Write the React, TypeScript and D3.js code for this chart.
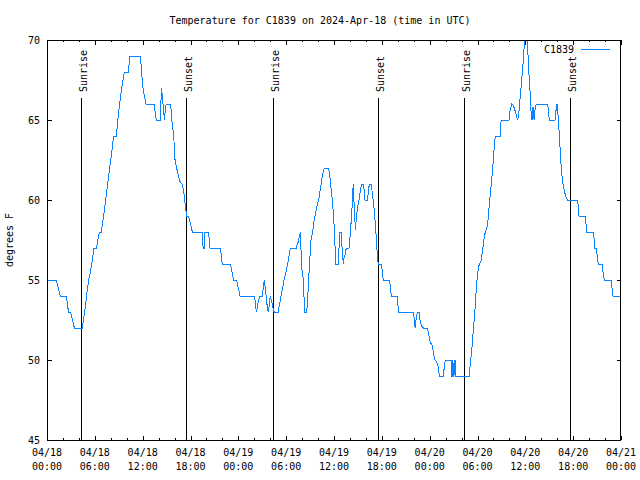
import React from 'react';
import * as d3 from 'd3';

// Observation times (hours after 2024-04-18 00:00 UTC) and temperatures (°F)
const obsHours = [
  0, 1.17, 1.35, 1.67, 2.42, 2.6, 2.68, 2.93, 3.15, 3.43, 4.43, 4.6, 4.85, 5.0, 5.23, 5.48, 5.73, 5.89, 6.19, 6.35,
  6.56, 6.81, 7.11, 7.36, 7.61, 7.86, 8.15, 8.36, 8.7, 8.86, 9.11, 9.36, 9.7, 10.2, 10.41, 11.71, 11.87, 12.04, 12.21, 12.42,
  13.42, 13.71, 14.21, 14.36, 14.45, 14.55, 14.65, 14.72, 14.85, 14.95, 15.5, 15.68, 15.85, 16.0, 16.06, 16.27, 16.48, 16.68, 16.93, 17.1,
  17.23, 17.31, 17.44, 17.52, 17.73, 17.85, 17.98, 18.1, 18.23, 19.48, 19.58, 19.72, 19.82, 20.24, 20.32, 20.45, 21.74, 21.82, 21.99, 22.99,
  23.12, 23.28, 23.41, 23.79, 23.91, 24.04, 24.21, 26.05, 26.13, 26.26, 26.38, 26.55, 26.72, 27.01, 27.13, 27.26, 27.38, 27.51, 27.63, 27.76,
  27.89, 28.01, 28.14, 28.26, 28.39, 28.52, 29.02, 29.1, 29.23, 29.35, 29.48, 29.6, 29.77, 29.94, 30.1, 30.27, 30.44, 30.56, 31.28, 31.36,
  31.53, 31.65, 31.78, 31.86, 31.94, 32.11, 32.28, 32.32, 32.57, 32.66, 32.78, 32.91, 32.99, 33.11, 33.24, 33.37, 33.49, 33.62, 33.78, 33.91,
  34.08, 34.2, 34.33, 34.45, 34.58, 34.7, 34.79, 35.29, 35.37, 35.5, 35.62, 35.75, 35.87, 36.0, 36.13, 36.17, 36.54, 36.63, 36.67, 36.92,
  37.0, 37.09, 37.17, 37.25, 37.38, 37.5, 37.63, 37.88, 38.0, 38.13, 38.26, 38.34, 38.42, 38.51, 38.63, 38.68, 38.76, 38.88, 39.01, 39.14,
  39.26, 39.39, 39.51, 39.68, 39.8, 39.89, 40.18, 40.31, 40.43, 40.68, 40.81, 40.93, 41.06, 41.18, 41.31, 41.39, 41.48, 41.6, 41.98, 42.06,
  42.19, 42.94, 43.07, 43.19, 43.95, 44.08, 45.96, 46.08, 46.17, 46.29, 46.46, 46.67, 46.79, 47.0, 47.21, 47.71, 47.84, 47.96, 48.13, 48.34,
  48.46, 48.63, 48.88, 49.05, 49.22, 49.72, 49.84, 49.97, 50.72, 50.8, 50.86, 50.92, 50.97, 51.05, 51.1, 51.2, 51.3, 52.98, 53.1, 53.23,
  53.35, 53.48, 53.6, 53.73, 53.85, 53.98, 54.1, 54.23, 54.48, 54.6, 54.73, 54.86, 54.98, 55.15, 55.32, 55.49, 55.66, 55.82, 55.99, 56.11,
  56.24, 56.83, 56.91, 56.99, 57.95, 58.08, 58.29, 58.5, 58.7, 58.91, 59.04, 59.21, 59.37, 59.54, 59.71, 59.83, 59.96, 60.21, 60.29, 60.38,
  60.5, 60.63, 60.71, 60.79, 60.88, 60.96, 61.05, 61.13, 61.25, 61.42, 62.8, 62.93, 63.01, 63.72, 63.85, 63.97, 64.06, 64.14, 64.22, 64.35,
  64.47, 64.64, 64.81, 64.98, 65.1, 65.27, 66.52, 66.65, 66.73, 67.48, 67.61, 67.69, 68.53, 68.65, 68.72, 68.9, 69.0, 69.15, 69.65, 69.75,
  69.9, 70.74, 70.87, 71.0, 72,
];
const obsTempF = [
  55, 55, 54.6, 54, 54, 53.4, 53, 53, 52.6, 52, 52, 52.6, 53.5, 54.2, 55, 55.6, 56.4, 57, 57, 57.4,
  58, 58, 59, 60, 61, 62, 63.1, 64, 64, 64.9, 66, 67, 68, 68, 69, 69, 68, 67, 66.5, 66,
  66, 65, 65, 67, 66.6, 66, 65.5, 65, 65.7, 66, 66, 64.9, 64.2, 63.2, 62.5, 62, 61.5, 61.15, 61, 60.7,
  60.2, 59.8, 59.3, 59, 59, 58.85, 58.5, 58.3, 58, 58, 57, 57, 58, 58, 57.7, 57, 57, 56.7, 56, 56,
  55.7, 55.3, 55, 55, 54.7, 54.4, 54, 54, 53.5, 53, 53.3, 53.75, 54, 54, 54.5, 55, 54.5, 53.9, 53.3, 53,
  53.5, 54, 53.75, 53.5, 53.1, 53, 53, 53.3, 53.65, 54, 54.3, 54.6, 55.1, 55.4, 55.8, 56.25, 56.8, 57, 57, 57.2,
  57.4, 57.7, 58, 56.9, 55.8, 55.2, 53.5, 53, 53, 53.5, 54.6, 55.9, 56.5, 57.5, 57.8, 58.2, 58.65, 59, 59.4, 59.7,
  60, 60.4, 60.8, 61.25, 61.6, 61.9, 62, 62, 61.8, 61.35, 60.8, 60.2, 59.5, 58.5, 57.1, 56, 56, 57, 58, 58,
  57.1, 56.5, 56, 56.35, 56.55, 56.9, 57, 57, 57.6, 58.5, 59.5, 60.4, 61, 59.9, 58.7, 58.1, 58.6, 59.2, 59.7, 60,
  60.4, 60.8, 61, 61, 60.6, 60, 60, 60.5, 61, 61, 60.4, 59.9, 59.3, 58.5, 57.6, 56.9, 56.2, 56, 56, 55.4,
  55, 55, 54.6, 54, 54, 53, 53, 52.5, 52, 52.5, 53, 53, 52.5, 52.1, 52, 52, 51.7, 51.35, 51.05, 50.9,
  50.5, 50, 49.9, 49.6, 49, 49, 49.6, 50, 50, 49, 49, 50, 49, 49, 50, 50, 49, 49, 49.8, 50.4,
  51.04, 51.9, 52.6, 53.5, 54.5, 55.2, 55.7, 56, 56.25, 56.8, 57.2, 57.7, 58, 58.2, 58.75, 59.8, 60.6, 61.5, 62.5, 63.4,
  64, 64, 64.8, 65, 65, 65.6, 66, 65.9, 65.6, 65.2, 65, 65.6, 66.5, 67.5, 68.5, 69.4, 70, 70, 69.6, 68.5,
  67.5, 66.5, 65.6, 65, 65.8, 65, 65.8, 65, 65.9, 66, 66, 65.4, 65, 65, 65.6, 66, 65.6, 65, 64.4, 63.3,
  62.3, 61.25, 60.8, 60.4, 60.2, 60, 60, 59.6, 59, 59, 58.5, 58, 58, 57.5, 57, 57, 56.6, 56, 56, 55.5,
  55, 55, 54.5, 54, 54,
];

const sunriseHours = [4.3, 28.38, 52.35];
const sunsetHours = [17.44, 41.56, 65.65];
const yTickValues = [45, 50, 55, 60, 65, 70];
const seriesName = 'C1839';
const chartTitle = 'Temperature for C1839 on 2024-Apr-18 (time in UTC)';
const yAxisLabel = 'degrees F';

const W = 640;
const H = 480;
const L = 47;
const R = 621;
const T = 40;
const B = 440;
const FONT = '"DejaVu Sans Mono", "Liberation Mono", monospace';
const LINE_COLOR = '#0a84ff';

export default function App() {
  const t0 = Date.UTC(2024, 3, 18);
  const toDate = (h: number) => new Date(t0 + h * 3600e3);
  const x = d3.scaleUtc().domain([toDate(0), toDate(72)]).range([L, R]);
  const y = d3.scaleLinear().domain([45, 70]).range([B, T]);

  const pts = obsHours.map((h, i) => ({ t: toDate(h), v: obsTempF[i] }));
  const line = d3
    .line<{ t: Date; v: number }>()
    .x((d) => x(d.t))
    .y((d) => y(d.v));

  const major = x.ticks(d3.utcHour.every(6) as any);
  const minor = x.ticks(d3.utcHour.every(2) as any);
  const fmtDate = d3.utcFormat('%m/%d');
  const fmtTime = d3.utcFormat('%H:%M');

  const events = [
    ...sunriseHours.map((h) => ({ h, label: 'Sunrise' })),
    ...sunsetHours.map((h) => ({ h, label: 'Sunset' })),
  ];

  return (
    <svg
      width={W}
      height={H}
      style={{ position: 'absolute', left: 0, top: 0, background: '#fff' }}
      fontFamily={FONT}
      fontSize={10}
    >
      <rect x={0} y={0} width={W} height={H} fill="#fff" />
      <defs>
        <clipPath id="plotClip">
          <rect x={L} y={T} width={R - L} height={B - T + 1} />
        </clipPath>
      </defs>

      <text x={320} y={24} textAnchor="middle" fill="#000">
        {chartTitle}
      </text>

      {/* ticks */}
      <g stroke="#000" shapeRendering="crispEdges">
        {minor.map((d, i) => {
          const xx = Math.round(x(d)) + 0.5;
          return (
            <g key={'m' + i}>
              <line x1={xx} x2={xx} y1={B} y2={B - 2} />
              <line x1={xx} x2={xx} y1={T} y2={T + 2} />
            </g>
          );
        })}
        {major.map((d, i) => {
          const xx = Math.round(x(d)) + 0.5;
          return (
            <g key={'M' + i}>
              <line x1={xx} x2={xx} y1={B} y2={B - 4.5} />
              <line x1={xx} x2={xx} y1={T} y2={T + 4.5} />
            </g>
          );
        })}
        {yTickValues.map((v, i) => {
          const yy = Math.round(y(v)) + 0.5;
          return (
            <g key={'y' + i}>
              <line x1={L} x2={L + 4.5} y1={yy} y2={yy} />
              <line x1={R} x2={R - 4.5} y1={yy} y2={yy} />
            </g>
          );
        })}
      </g>

      {/* x tick labels */}
      {major.map((d, i) => (
        <text key={'xl' + i} textAnchor="middle" fill="#000">
          <tspan x={x(d)} y={456}>
            {fmtDate(d)}
          </tspan>
          <tspan x={x(d)} y={470}>
            {fmtTime(d)}
          </tspan>
        </text>
      ))}

      {/* y tick labels */}
      {yTickValues.map((v, i) => (
        <text key={'yl' + i} x={40} y={y(v) + 3.6} textAnchor="end" fill="#000">
          {v}
        </text>
      ))}

      <text transform={`translate(13,240) rotate(-90)`} textAnchor="middle" fill="#000">
        {yAxisLabel}
      </text>

      {/* sunrise / sunset markers */}
      {events.map((e, i) => {
        const xx = Math.round(x(toDate(e.h))) + 0.5;
        return (
          <g key={'ev' + i}>
            <line x1={xx} x2={xx} y1={98} y2={B} stroke="#000" strokeWidth={1} shapeRendering="crispEdges" />
            <text transform={`translate(${xx + 5},92) rotate(-90)`} textAnchor="start" fill="#000">
              {e.label}
            </text>
          </g>
        );
      })}

      {/* data line */}
      <path
        d={line(pts) || ''}
        fill="none"
        stroke={LINE_COLOR}
        strokeWidth={1}
        shapeRendering="crispEdges"
        clipPath="url(#plotClip)"
      />

      {/* legend */}
      <text x={574} y={53} textAnchor="end" fill="#000">
        {seriesName}
      </text>
      <line x1={581} x2={610} y1={49.5} y2={49.5} stroke={LINE_COLOR} strokeWidth={1} shapeRendering="crispEdges" />

      {/* border */}
      <rect
        x={L + 0.5}
        y={T + 0.5}
        width={R - L - 1}
        height={B - T}
        fill="none"
        stroke="#000"
        strokeWidth={1}
        shapeRendering="crispEdges"
      />
    </svg>
  );
}
